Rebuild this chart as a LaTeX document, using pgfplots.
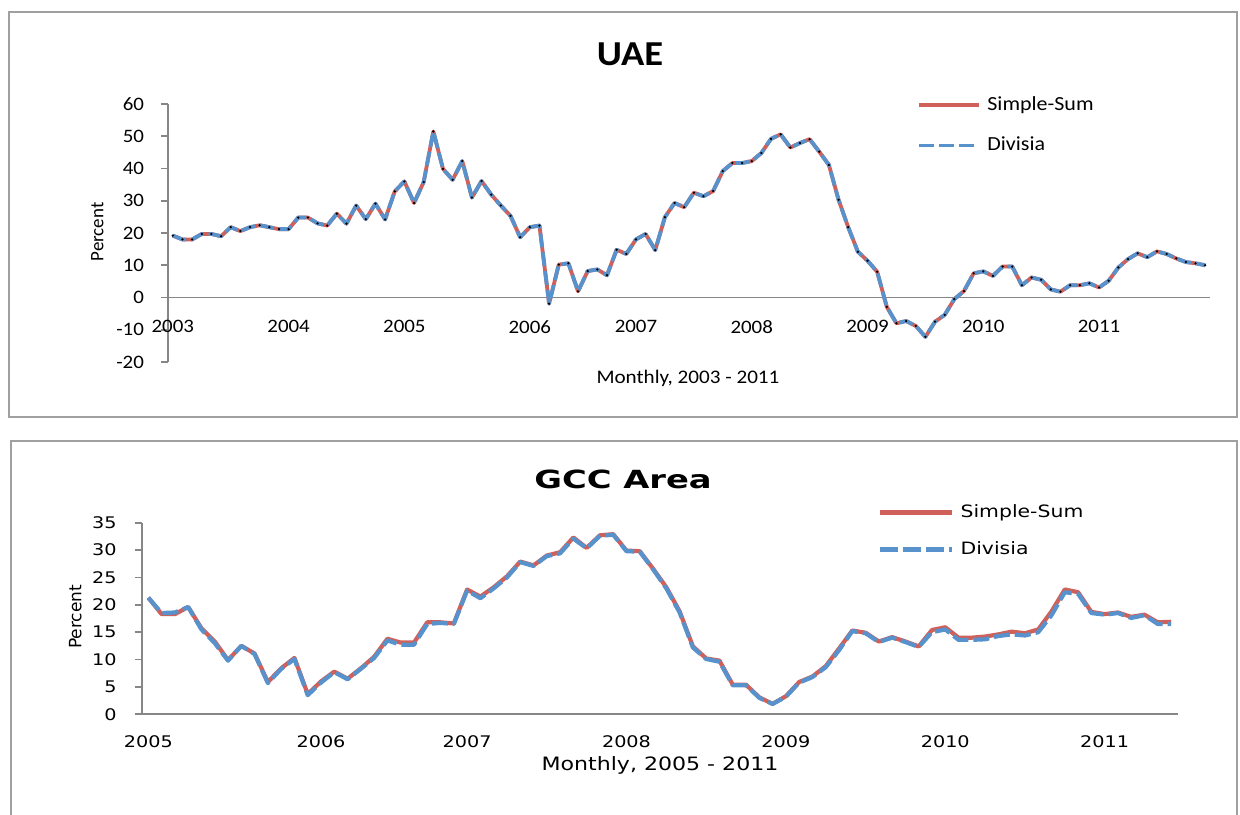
\documentclass[border=0pt]{standalone}
\usepackage{fontspec}
\usepackage{pgfplots}
\usepackage{pgfplotstable}
\pgfplotsset{compat=1.18}
\setmainfont{Carlito}
\newfontfamily\topfont[FakeStretch=1.1]{Carlito}
\newfontfamily\topplain{Carlito}
\newfontfamily\botfont[FakeStretch=1.2]{DejaVu Sans}
\newfontfamily\bottitle[FakeStretch=1.35]{DejaVu Sans}
\newfontfamily\botplain{DejaVu Sans}
\definecolor{ssred}{RGB}{207,96,90}
\definecolor{dvblue}{RGB}{87,146,204}
\definecolor{axgray}{RGB}{134,134,134}
\definecolor{framegray}{RGB}{160,160,160}

\pgfplotstableread{
i v
0 19.2
1 18.0
2 18.0
3 19.7
4 19.7
5 19.0
6 21.8
7 20.6
8 21.8
9 22.4
10 21.8
11 21.2
12 21.2
13 24.8
14 24.8
15 23.0
16 22.3
17 26.0
18 22.9
19 28.5
20 24.3
21 29.1
22 24.2
23 32.9
24 36.0
25 29.3
26 35.8
27 51.5
28 39.9
29 36.5
30 42.3
31 31.0
32 36.1
33 31.9
34 28.5
35 25.3
36 18.7
37 21.8
38 22.3
39 -1.9
40 10.2
41 10.6
42 1.9
43 8.2
44 8.7
45 6.9
46 14.8
47 13.5
48 18.0
49 19.7
50 14.7
51 24.9
52 29.3
53 28.0
54 32.5
55 31.4
56 33.0
57 39.2
58 41.7
59 41.7
60 42.3
61 44.8
62 49.2
63 50.6
64 46.5
65 47.9
66 49.1
67 45.2
68 41.1
69 30.3
70 21.8
71 14.2
72 11.4
73 8.0
74 -2.9
75 -8.0
76 -7.3
77 -8.8
78 -12.2
79 -7.5
80 -5.4
81 -0.5
82 2.0
83 7.5
84 8.1
85 6.7
86 9.6
87 9.6
88 3.8
89 6.2
90 5.5
91 2.5
92 1.8
93 3.8
94 3.8
95 4.4
96 3.1
97 5.2
98 9.3
99 11.9
100 13.7
101 12.5
102 14.3
103 13.5
104 12.1
105 11.0
106 10.6
107 10.0
}\uaedata

\pgfplotstableread{
i ss dv
0 21.3 21.3
1 18.3 18.5
2 18.3 18.6
3 19.6 19.6
4 15.7 15.5
5 13.3 13.0
6 9.9 9.8
7 12.5 12.5
8 11.1 11.0
9 5.9 5.7
10 8.4 8.3
11 10.3 10.1
12 3.7 3.5
13 6.0 5.8
14 7.8 7.7
15 6.5 6.4
16 8.4 8.3
17 10.5 10.3
18 13.8 13.5
19 13.1 12.7
20 13.1 12.7
21 16.8 16.5
22 16.8 16.7
23 16.6 16.5
24 22.8 22.6
25 21.5 21.2
26 23.2 23.0
27 25.2 25.0
28 27.9 27.8
29 27.2 27.1
30 29.0 28.9
31 29.6 29.4
32 32.3 32.1
33 30.4 30.3
34 32.7 32.6
35 32.9 32.8
36 29.9 29.8
37 29.8 29.7
38 26.6 26.5
39 23.2 23.0
40 18.8 18.6
41 12.4 12.2
42 10.2 10.1
43 9.8 9.6
44 5.4 5.3
45 5.4 5.3
46 3.1 3.0
47 1.9 1.9
48 3.3 3.2
49 5.9 5.8
50 6.9 6.8
51 8.8 8.6
52 12.0 11.7
53 15.3 15.2
54 14.9 14.8
55 13.3 13.2
56 14.1 14.0
57 13.3 13.2
58 12.4 12.3
59 15.4 15.0
60 15.9 15.5
61 14.0 13.6
62 14.0 13.6
63 14.2 13.7
64 14.6 14.3
65 15.1 14.6
66 14.8 14.4
67 15.5 15.0
68 18.8 18.1
69 22.8 22.3
70 22.3 22.0
71 18.7 18.5
72 18.3 18.2
73 18.6 18.5
74 17.8 17.6
75 18.2 18.1
76 16.8 16.5
77 16.9 16.5
}\gccdata

\pgfplotsset{
  excelaxis/.style={
    scale only axis,
    axis line style={draw=axgray, line width=0.9pt},
    hide obscured x ticks=false,
    hide obscured y ticks=false,
    tick align=outside,
    major tick length=3.5pt,
    ytick style={draw=axgray, line width=0.9pt},
    xtick style={draw=none},
    legend cell align=left,
    every axis title shift=0pt,
  }
}

\begin{document}
\begin{tikzpicture}
\path[use as bounding box] (0pt,0pt) rectangle (620pt,407pt);
% chart frames
\draw[framegray, line width=1pt] (4.5pt,198.5pt) rectangle (618.5pt,401pt);
\draw[framegray, line width=1pt] (5.35pt,-5pt) -- (5.35pt,186.5pt) -- (618.5pt,186.5pt) -- (618.5pt,-5pt);

% ---------- UAE ----------
\begin{axis}[excelaxis,
  at={(84pt,226pt)}, anchor=south west,
  width=521pt, height=129pt,
  axis x line*=middle, axis y line*=left,
  xmin=-0.5, xmax=107.5, ymin=-20, ymax=60,
  ytick={-20,-10,0,10,20,30,40,50,60},
  yticklabels={-20,-10,0,10,20,30,40,50,60},
  xtick={0,12,24,37,48,60,72,84,96},
  xticklabels={2003,2004,2005,2006,2007,2008,2009,2010,2011},
  tick label style={font=\topfont\fontsize{9.5}{11}\selectfont},
  xticklabel style={yshift=-4.5pt},
  yticklabel style={xshift=-5pt},
  title={\topfont\bfseries UAE},
  title style={at={(axis description cs:0.4434,1.191)}, anchor=center, font=\fontsize{17.5}{20}\selectfont},
  xlabel={Monthly, 2003 - 2011},
  xlabel style={at={(axis description cs:0.499,-0.062)}, anchor=center, font=\topfont\fontsize{9.6}{11}\selectfont},
  ylabel={Percent},
  ylabel style={at={(axis description cs:-0.0677,0.504)}, anchor=center, font=\topplain\fontsize{9.5}{11}\selectfont},
  legend style={at={(axis description cs:0.7188,1.031)}, anchor=north west, draw=none, fill=none,
    inner sep=0pt, row sep=11pt, column sep=3pt,
    font=\topfont\fontsize{10}{12}\selectfont,
    nodes={inner sep=0pt, text height=7pt, text depth=2pt}},
  legend image code/.code={\draw[#1, dash pattern=on 7.5pt off 2.5pt] (0pt,0pt) -- (30pt,0pt);},
]
\addplot[ssred, line width=1.9pt, line join=round, legend image code/.code={\draw[ssred, line width=2pt] (0pt,0pt) -- (30pt,0pt);}] table[x=i, y=v] {\uaedata};
\addlegendentry{Simple-Sum}
\addplot[dvblue, line width=1.9pt, line join=round, dash pattern=on 7pt off 2.5pt] table[x=i, y=v] {\uaedata};
\addlegendentry{Divisia}
\addplot[only marks, mark=*, mark size=0.35pt, black, forget plot] table[x=i, y=v] {\uaedata};
\end{axis}

% ---------- GCC ----------
\begin{axis}[excelaxis,
  at={(70.85pt,49.85pt)}, anchor=south west,
  width=518pt, height=95.8pt,
  axis x line*=bottom, axis y line*=left,
  xmin=-0.5, xmax=77.5, ymin=0, ymax=35,
  ytick={0,5,10,15,20,25,30,35},
  yticklabels={0,5,10,15,20,25,30,35},
  xtick={0,13,24,36,48,60,72},
  xticklabels={2005,2006,2007,2008,2009,2010,2011},
  tick label style={font=\botfont\fontsize{8}{10}\selectfont},
  xticklabel style={yshift=-3.5pt},
  yticklabel style={xshift=-5.5pt},
  title={\bottitle\bfseries GCC Area},
  title style={at={(axis description cs:0.4646,1.228)}, anchor=center, font=\fontsize{12.5}{15}\selectfont},
  xlabel={Monthly, 2005 - 2011},
  xlabel style={at={(axis description cs:0.5003,-0.265)}, anchor=center, font=\botfont\fontsize{9.2}{11}\selectfont},
  ylabel={Percent},
  ylabel style={at={(axis description cs:-0.064,0.508)}, anchor=center, font=\botplain\fontsize{8.5}{10}\selectfont},
  legend style={at={(axis description cs:0.7107,1.0976)}, anchor=north west, draw=none, fill=none,
    inner sep=0pt, row sep=10.5pt, column sep=3pt,
    font=\botfont\fontsize{8.5}{10}\selectfont,
    nodes={inner sep=0pt, text height=6.5pt, text depth=1.5pt}},
  legend image code/.code={\draw[#1, dash pattern=on 9pt off 2.5pt] (0pt,0pt) -- (36pt,0pt);},
]
\addplot[ssred, line width=2.1pt, line join=round, legend image code/.code={\draw[ssred, line width=2.1pt] (0pt,0pt) -- (36pt,0pt);}] table[x=i, y=ss] {\gccdata};
\addlegendentry{Simple-Sum}
\addplot[dvblue, line width=2.1pt, line join=round, dash pattern=on 8pt off 2.5pt] table[x=i, y=dv] {\gccdata};
\addlegendentry{Divisia}
\end{axis}
\end{tikzpicture}
\end{document}
